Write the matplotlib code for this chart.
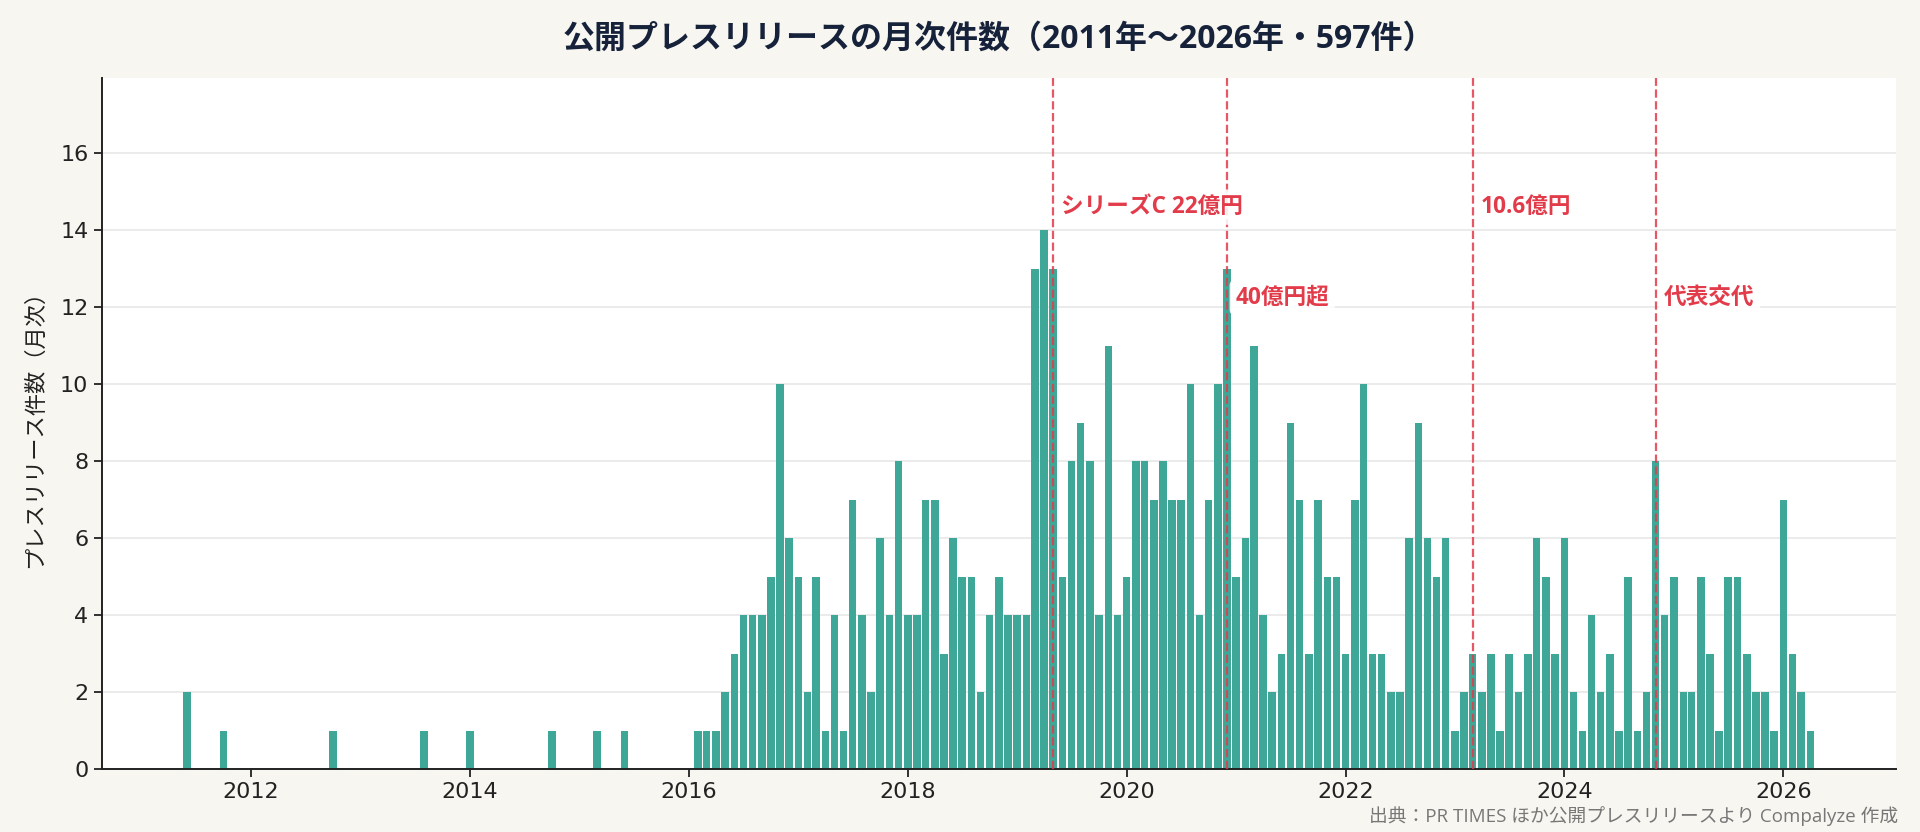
import matplotlib
matplotlib.use("Agg")
import matplotlib.pyplot as plt
import matplotlib.dates as mdates
import pandas as pd

plt.rcParams['font.family'] = ['Open Sans', 'Noto Sans CJK JP', 'DejaVu Sans']

# monthly counts (months with zero releases omitted)
early_months = ['2011-06', '2011-10', '2012-10', '2013-08', '2014-01', '2014-10', '2015-03', '2015-06']
early_counts = [2, 1, 1, 1, 1, 1, 1, 1]

# contiguous run from 2016-02 to 2026-04
run_start = '2016-02'
run_counts = [
    1, 1, 1, 2, 3, 4, 4, 4, 5, 10, 6,           # 2016 Feb-Dec
    5, 2, 5, 1, 4, 1, 7, 4, 2, 6, 4, 8,         # 2017
    4, 4, 7, 7, 3, 6, 5, 5, 2, 4, 5, 4,         # 2018
    4, 4, 13, 14, 13, 5, 8, 9, 8, 4, 11, 4,     # 2019
    5, 8, 8, 7, 8, 7, 7, 10, 4, 7, 10, 13,      # 2020
    5, 6, 11, 4, 2, 3, 9, 7, 3, 7, 5, 5,        # 2021
    3, 7, 10, 3, 3, 2, 2, 6, 9, 6, 5, 6,        # 2022
    1, 2, 3, 2, 3, 1, 3, 2, 3, 6, 5, 3,         # 2023
    6, 2, 1, 4, 2, 3, 1, 5, 1, 2, 8, 4,         # 2024
    5, 2, 2, 5, 3, 1, 5, 5, 3, 2, 2, 1,         # 2025
    7, 3, 2, 1,                                 # 2026 Jan-Apr
]

events = ['2019-05', '2020-12', '2023-03', '2024-11']
event_labels = ['シリーズC 22億円', '40億円超', '10.6億円', '代表交代']
event_label_y = [14.6, 12.25, 14.6, 12.25]

months = list(pd.to_datetime(early_months)) + list(pd.date_range(run_start, periods=len(run_counts), freq='MS'))
counts = early_counts + run_counts

BG = '#f8f6f0'
TEAL = '#3fa797'
RED = '#e23b4a'

fig = plt.figure(figsize=(19.2, 8.32), dpi=100, facecolor=BG)
ax = fig.add_axes([0.0529, 0.0757, 0.9344, 0.8303])
ax.set_facecolor('white')

ax.bar(months, counts, width=25, color=TEAL, zorder=2)

for d, lab, y in zip(events, event_labels, event_label_y):
    dt = pd.Timestamp(d)
    ax.axvline(dt, color=RED, linestyle='--', linewidth=1.6, alpha=0.85, zorder=3)
    ax.annotate(lab, xy=(dt, y), xytext=(6, 0), textcoords='offset points',
                ha='left', va='center', fontsize=16.3, fontweight='bold', color=RED,
                bbox=dict(boxstyle='round,pad=0.25', facecolor='white', edgecolor='none', alpha=0.88),
                zorder=4)

ax.set_ylim(0, 17.95)
ax.set_yticks(range(0, 17, 2))
ax.grid(axis='y', color='#e8e8e8', linewidth=1.2, zorder=0)
ax.set_axisbelow(True)

ax.xaxis.set_major_locator(mdates.YearLocator(2))
ax.xaxis.set_major_formatter(mdates.DateFormatter('%Y'))

for s in ['top', 'right']:
    ax.spines[s].set_visible(False)
for s in ['left', 'bottom']:
    ax.spines[s].set_color('#222222')
    ax.spines[s].set_linewidth(1.4)
ax.tick_params(axis='both', labelsize=16, colors='#222222', length=6, width=1.3)
ax.tick_params(axis='x', pad=3)
for t in ax.get_xticklabels() + ax.get_yticklabels():
    t.set_fontfamily('DejaVu Sans')

ax.set_ylabel('プレスリリース件数（月次）', fontsize=16, color='#222222', labelpad=10)
ax.set_title('公開プレスリリースの月次件数（2011年〜2026年・597件）',
             fontsize=23, fontweight='bold', color='#16213a', pad=22)

fig.text(0.9885, 0.019, '出典：PR TIMES ほか公開プレスリリースより Compalyze 作成',
         ha='right', va='center', fontsize=13.5, color='#777777')

fig.savefig('out.png', dpi=100, facecolor=BG)
